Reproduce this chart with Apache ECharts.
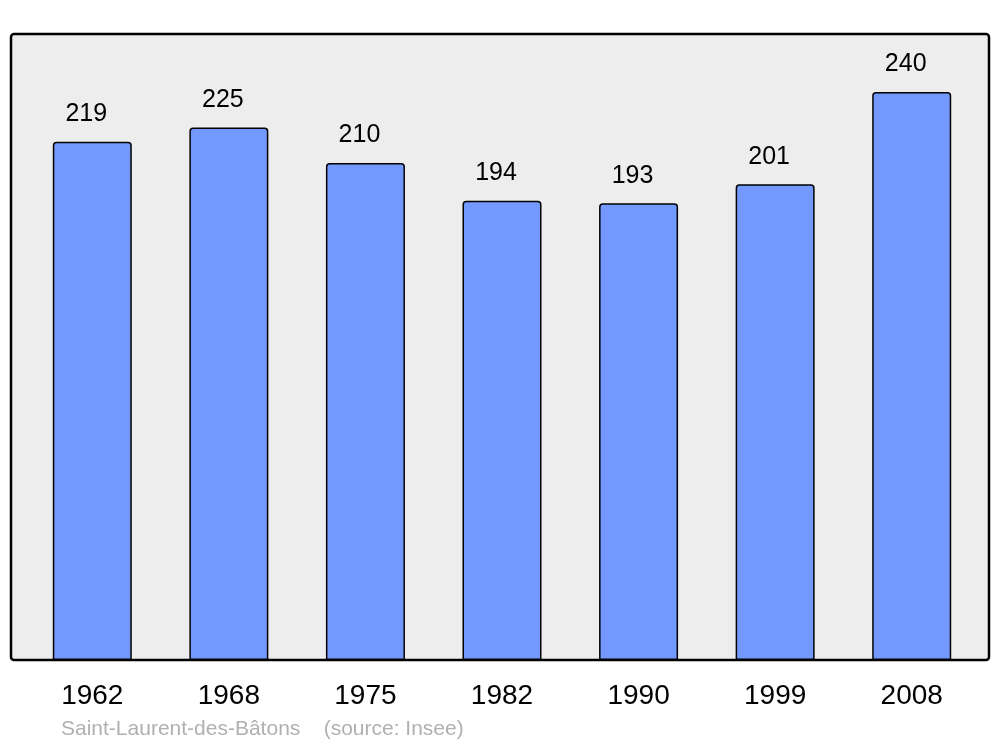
<!DOCTYPE html>
<html>
<head>
<meta charset="utf-8">
<script src="https://cdn.jsdelivr.net/npm/echarts@6/dist/echarts.min.js"></script>
<style>
  html, body { margin: 0; padding: 0; background: #fff; }
  #chart { width: 1000px; height: 747px; }
</style>
</head>
<body>
<div id="chart"></div>
<script>
// 人口数据
const years = ['1962', '1968', '1975', '1982', '1990', '1999', '2008']
const population = [219, 225, 210, 194, 193, 201, 240]
const caption = 'Saint-Laurent-des-Bâtons    (source: Insee)'

const myChart = echarts.init(document.getElementById('chart'))

myChart.setOption({
  animation: false,
  textStyle: { fontFamily: 'Liberation Sans, Arial, sans-serif' },
  grid: {
    left: 24,
    right: 20,
    top: 34,
    bottom: 87
  },
  graphic: [
    {
      type: 'rect',
      z: -10,
      shape: { x: 11, y: 34, width: 978, height: 626, r: 3 },
      style: { fill: '#ededed', stroke: '#000', lineWidth: 2.5 }
    },
    {
      type: 'text',
      left: 61,
      top: 719,
      style: {
        text: caption,
        fill: '#b0b0b0',
        font: '21px "Liberation Sans", Arial, sans-serif'
      }
    }
  ],
  xAxis: {
    type: 'category',
    data: years,
    axisLine: { show: false },
    axisTick: { show: false },
    axisLabel: {
      color: '#000',
      fontSize: 28,
      margin: 22
    }
  },
  yAxis: {
    type: 'value',
    min: 0,
    max: 264.5,
    show: false,
    splitLine: { show: false }
  },
  series: [
    {
      type: 'bar',
      data: population,
      barWidth: 79,
      itemStyle: {
        color: '#7399ff',
        borderColor: '#000',
        borderWidth: 1.5,
        borderRadius: [3, 3, 0, 0]
      },
      label: {
        show: true,
        position: 'top',
        distance: 15,
        offset: [-6, 0],
        color: '#000',
        fontSize: 25
      }
    }
  ]
})
</script>
</body>
</html>
